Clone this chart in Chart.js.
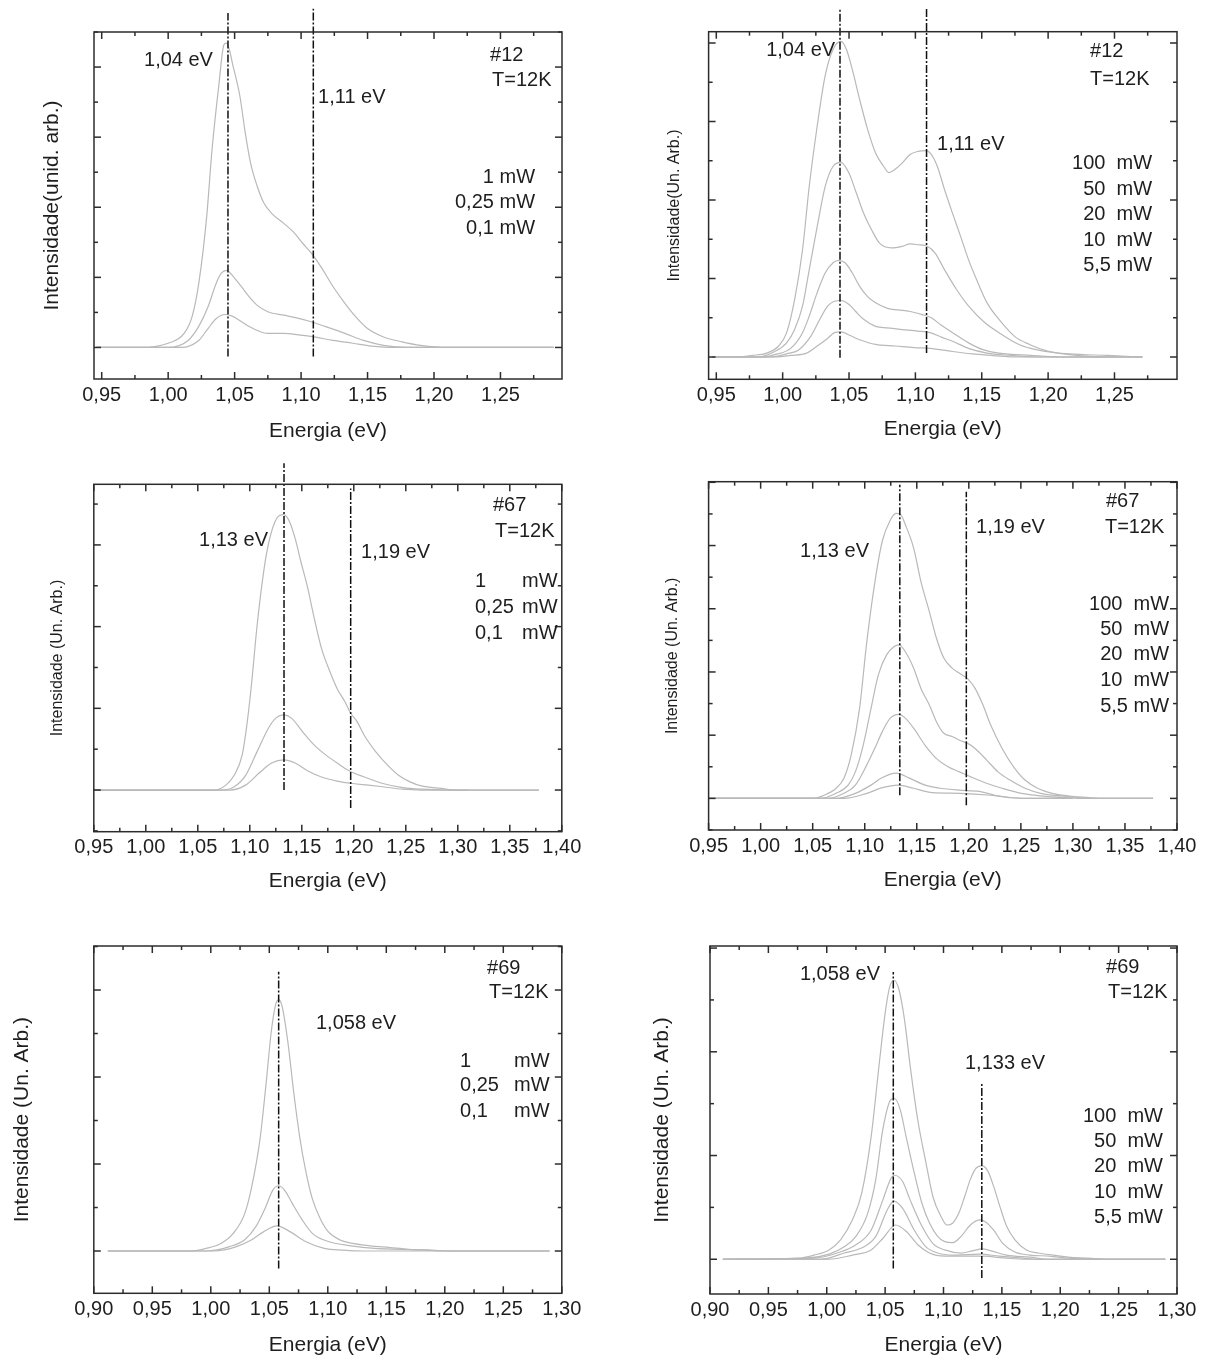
<!DOCTYPE html>
<html lang="pt">
<head>
<meta charset="utf-8">
<title>Fotoluminescência #12, #67, #69</title>
<script src="https://cdn.jsdelivr.net/npm/chart.js@4.4.1/dist/chart.umd.min.js"></script>
<style>
  html, body { margin: 0; padding: 0; background: #fff; }
  #pagina { position: relative; width: 1211px; height: 1363px; overflow: hidden; }
  #pagina canvas { position: absolute; }
</style>
</head>
<body>
<div id="pagina"></div>
<script>
// rótulos do eixo de energia
const ticks12 = [0.95, 1.00, 1.05, 1.10, 1.15, 1.20, 1.25];
const ticks67 = [0.95, 1.00, 1.05, 1.10, 1.15, 1.20, 1.25, 1.30, 1.35, 1.40];
const ticks69 = [0.90, 0.95, 1.00, 1.05, 1.10, 1.15, 1.20, 1.25, 1.30];

// amostra #12, baixa potência  [energia (eV), intensidade (u.a.)]
const a12_1mW = [[0.946,0],[0.98,0],[1.000,0.06],[1.012,0.2],[1.018,0.44],[1.023,0.91],[1.029,1.87],[1.033,2.82],[1.038,3.72],[1.042,4.32],[1.044,4.34],[1.049,4.0],[1.054,3.58],[1.058,3.06],[1.062,2.63],[1.067,2.30],[1.072,2.06],[1.078,1.91],[1.087,1.77],[1.095,1.63],[1.101,1.49],[1.108,1.34],[1.115,1.15],[1.124,0.87],[1.133,0.63],[1.141,0.44],[1.150,0.27],[1.162,0.15],[1.176,0.08],[1.190,0.03],[1.210,0],[1.290,0]];
const a12_025mW = [[0.946,0],[1.0,0],[1.015,0.1],[1.023,0.3],[1.03,0.58],[1.036,0.91],[1.04,1.06],[1.044,1.10],[1.049,1.01],[1.055,0.87],[1.061,0.72],[1.067,0.60],[1.075,0.51],[1.087,0.46],[1.095,0.43],[1.107,0.37],[1.118,0.30],[1.133,0.2],[1.147,0.1],[1.162,0.03],[1.18,0],[1.29,0]];
const a12_01mW = [[0.946,0],[1.01,0],[1.023,0.1],[1.03,0.27],[1.036,0.41],[1.043,0.47],[1.049,0.44],[1.055,0.37],[1.064,0.27],[1.075,0.20],[1.087,0.2],[1.098,0.18],[1.11,0.15],[1.124,0.1],[1.139,0.06],[1.153,0.02],[1.17,0],[1.29,0]];

// amostra #12, alta potência
const b12_100mW = [[0.947,0],[0.965,0],[0.977,0.02],[0.988,0.05],[0.997,0.14],[1.003,0.31],[1.009,0.73],[1.015,1.37],[1.020,2.17],[1.026,2.94],[1.032,3.58],[1.038,3.92],[1.044,4.02],[1.048,3.92],[1.0525,3.66],[1.058,3.28],[1.064,2.90],[1.070,2.60],[1.076,2.43],[1.080,2.35],[1.0845,2.39],[1.090,2.47],[1.096,2.58],[1.102,2.62],[1.108,2.63],[1.112,2.58],[1.1165,2.43],[1.122,2.13],[1.128,1.83],[1.134,1.54],[1.140,1.24],[1.146,0.99],[1.154,0.69],[1.163,0.48],[1.175,0.26],[1.186,0.16],[1.201,0.07],[1.216,0.04],[1.245,0.02],[1.271,0]];
const b12_50mW = [[0.947,0],[0.982,0],[0.994,0.07],[1.003,0.18],[1.009,0.35],[1.015,0.65],[1.020,1.11],[1.026,1.66],[1.032,2.17],[1.038,2.43],[1.044,2.48],[1.050,2.34],[1.0555,2.09],[1.061,1.83],[1.067,1.62],[1.073,1.45],[1.082,1.39],[1.090,1.41],[1.096,1.44],[1.102,1.43],[1.109,1.41],[1.115,1.32],[1.122,1.11],[1.131,0.86],[1.140,0.65],[1.1515,0.45],[1.163,0.31],[1.178,0.16],[1.192,0.09],[1.216,0.03],[1.24,0],[1.271,0]];
const b12_20mW = [[0.947,0],[0.985,0],[0.994,0.03],[1.006,0.11],[1.015,0.31],[1.020,0.52],[1.026,0.82],[1.032,1.07],[1.038,1.20],[1.042,1.23],[1.047,1.20],[1.0525,1.07],[1.058,0.90],[1.064,0.77],[1.070,0.69],[1.079,0.62],[1.087,0.60],[1.096,0.58],[1.105,0.54],[1.112,0.50],[1.119,0.41],[1.128,0.31],[1.140,0.18],[1.1515,0.09],[1.163,0.05],[1.187,0.02],[1.21,0],[1.271,0]];
const b12_10mW = [[0.947,0],[0.99,0],[1.003,0.04],[1.012,0.09],[1.021,0.26],[1.028,0.48],[1.034,0.65],[1.039,0.71],[1.044,0.72],[1.050,0.67],[1.055,0.58],[1.061,0.48],[1.070,0.39],[1.079,0.37],[1.090,0.35],[1.102,0.33],[1.111,0.31],[1.120,0.25],[1.128,0.20],[1.140,0.11],[1.154,0.05],[1.172,0.02],[1.19,0],[1.271,0]];
const b12_55mW = [[0.947,0],[0.995,0],[1.006,0.02],[1.018,0.05],[1.026,0.14],[1.034,0.24],[1.039,0.31],[1.044,0.32],[1.050,0.28],[1.058,0.22],[1.070,0.16],[1.085,0.14],[1.099,0.12],[1.111,0.11],[1.128,0.07],[1.143,0.04],[1.157,0.02],[1.18,0],[1.271,0]];

// amostra #67, baixa potência
const a67_1mW = [[0.95,0],[1.066,0],[1.077,0.06],[1.085,0.18],[1.0927,0.43],[1.097,0.78],[1.1012,1.24],[1.1074,2.06],[1.1159,2.88],[1.1244,3.29],[1.1325,3.37],[1.138,3.29],[1.1436,3.08],[1.149,2.80],[1.155,2.51],[1.162,2.10],[1.169,1.73],[1.177,1.45],[1.184,1.24],[1.1915,1.08],[1.197,0.94],[1.203,0.84],[1.21,0.67],[1.221,0.47],[1.232,0.31],[1.243,0.18],[1.254,0.10],[1.265,0.05],[1.284,0.02],[1.30,0],[1.378,0]];
const a67_025mW = [[0.95,0],[1.0735,0],[1.085,0.04],[1.096,0.18],[1.107,0.47],[1.118,0.76],[1.125,0.88],[1.1325,0.92],[1.14,0.88],[1.151,0.71],[1.162,0.55],[1.173,0.43],[1.184,0.33],[1.195,0.24],[1.21,0.16],[1.228,0.08],[1.247,0.03],[1.265,0.01],[1.29,0],[1.378,0]];
const a67_01mW = [[0.95,0],[1.081,0],[1.096,0.06],[1.110,0.22],[1.121,0.33],[1.1325,0.37],[1.1436,0.33],[1.155,0.24],[1.169,0.16],[1.184,0.11],[1.199,0.08],[1.214,0.06],[1.228,0.04],[1.247,0.01],[1.265,0],[1.31,0]];

// amostra #67, alta potência
const b67_100mW = [[0.95,0],[1.05,0],[1.061,0.05],[1.0725,0.16],[1.08,0.32],[1.087,0.69],[1.095,1.42],[1.102,2.48],[1.110,3.45],[1.117,4.08],[1.1245,4.40],[1.130,4.51],[1.134,4.50],[1.139,4.33],[1.147,3.96],[1.154,3.43],[1.162,2.96],[1.169,2.53],[1.176,2.22],[1.184,2.06],[1.191,1.98],[1.199,1.89],[1.206,1.74],[1.2135,1.48],[1.221,1.16],[1.232,0.79],[1.243,0.50],[1.254,0.29],[1.266,0.16],[1.28,0.08],[1.295,0.04],[1.317,0.01],[1.33,0],[1.377,0]];
const b67_50mW = [[0.95,0],[1.058,0],[1.0725,0.08],[1.084,0.21],[1.091,0.42],[1.0985,0.84],[1.106,1.42],[1.113,1.95],[1.121,2.27],[1.128,2.40],[1.133,2.43],[1.139,2.32],[1.147,2.06],[1.154,1.74],[1.162,1.48],[1.169,1.21],[1.176,1.03],[1.184,0.98],[1.191,0.92],[1.199,0.87],[1.206,0.79],[1.217,0.61],[1.228,0.42],[1.2395,0.29],[1.254,0.16],[1.269,0.08],[1.295,0.03],[1.32,0],[1.377,0]];
const b67_20mW = [[0.95,0],[1.065,0],[1.08,0.08],[1.091,0.21],[1.102,0.53],[1.1096,0.79],[1.117,1.06],[1.1245,1.27],[1.133,1.33],[1.139,1.27],[1.147,1.11],[1.158,0.84],[1.169,0.63],[1.180,0.50],[1.191,0.42],[1.202,0.34],[1.217,0.24],[1.232,0.16],[1.2506,0.08],[1.269,0.04],[1.295,0.01],[1.31,0],[1.377,0]];
const b67_10mW = [[0.95,0],[1.0725,0],[1.091,0.08],[1.106,0.21],[1.117,0.33],[1.130,0.40],[1.143,0.32],[1.158,0.21],[1.173,0.16],[1.191,0.13],[1.210,0.11],[1.225,0.05],[1.243,0.01],[1.26,0],[1.30,0]];
const b67_55mW = [[0.95,0],[1.08,0],[1.102,0.08],[1.117,0.17],[1.132,0.21],[1.147,0.16],[1.165,0.09],[1.191,0.08],[1.221,0.05],[1.24,0.01],[1.26,0],[1.30,0]];

// amostra #69, baixa potência
const a69_1mW = [[0.912,0],[0.983,0],[0.996,0.03],[1.009,0.09],[1.019,0.20],[1.029,0.43],[1.035,0.74],[1.042,1.28],[1.047,1.89],[1.0515,2.50],[1.055,2.81],[1.058,2.89],[1.061,2.81],[1.066,2.39],[1.071,1.81],[1.076,1.31],[1.081,0.93],[1.087,0.59],[1.094,0.36],[1.1005,0.22],[1.110,0.13],[1.120,0.09],[1.136,0.06],[1.153,0.04],[1.169,0.02],[1.1885,0.01],[1.21,0],[1.2895,0]];
const a69_025mW = [[0.912,0],[0.996,0],[1.016,0.05],[1.029,0.13],[1.0385,0.28],[1.047,0.51],[1.053,0.70],[1.058,0.75],[1.063,0.70],[1.0695,0.55],[1.078,0.36],[1.087,0.20],[1.1005,0.11],[1.12,0.06],[1.14,0.03],[1.162,0.02],[1.185,0.01],[1.20,0],[1.2895,0]];
const a69_01mW = [[0.912,0],[1.003,0],[1.022,0.05],[1.035,0.13],[1.045,0.22],[1.0565,0.29],[1.068,0.22],[1.081,0.11],[1.097,0.03],[1.1135,0.01],[1.13,0],[1.2895,0]];

// amostra #69, alta potência
const b69_100mW = [[0.911,0],[0.9755,0.01],[0.989,0.04],[1.002,0.09],[1.012,0.19],[1.022,0.38],[1.030,0.64],[1.038,1.18],[1.045,1.89],[1.050,2.37],[1.054,2.63],[1.0576,2.69],[1.0616,2.61],[1.0666,2.31],[1.0715,1.86],[1.078,1.34],[1.085,0.93],[1.091,0.60],[1.098,0.41],[1.103,0.33],[1.108,0.35],[1.113,0.44],[1.118,0.60],[1.123,0.77],[1.128,0.88],[1.133,0.90],[1.138,0.85],[1.143,0.70],[1.148,0.52],[1.154,0.32],[1.161,0.19],[1.171,0.09],[1.181,0.06],[1.194,0.04],[1.207,0.02],[1.224,0.01],[1.24,0],[1.29,0]];
const b69_50mW = [[0.911,0],[0.982,0.01],[1.002,0.05],[1.015,0.12],[1.025,0.22],[1.035,0.44],[1.042,0.77],[1.048,1.25],[1.055,1.54],[1.058,1.55],[1.063,1.44],[1.068,1.18],[1.075,0.83],[1.0815,0.54],[1.088,0.35],[1.095,0.22],[1.101,0.17],[1.108,0.16],[1.115,0.22],[1.123,0.33],[1.131,0.38],[1.136,0.36],[1.143,0.28],[1.151,0.15],[1.161,0.07],[1.174,0.04],[1.191,0.03],[1.207,0.01],[1.23,0],[1.29,0]];
const b69_20mW = [[0.911,0],[0.989,0.01],[1.009,0.06],[1.025,0.14],[1.038,0.28],[1.048,0.57],[1.055,0.78],[1.058,0.81],[1.065,0.75],[1.0715,0.57],[1.0815,0.32],[1.091,0.15],[1.101,0.09],[1.115,0.06],[1.1245,0.08],[1.133,0.10],[1.141,0.08],[1.154,0.04],[1.174,0.02],[1.19,0],[1.29,0]];
const b69_10mW = [[0.911,0],[0.995,0],[1.015,0.06],[1.032,0.12],[1.042,0.22],[1.052,0.48],[1.0576,0.56],[1.065,0.49],[1.075,0.28],[1.085,0.12],[1.095,0.06],[1.108,0.04],[1.131,0.05],[1.148,0.03],[1.168,0.01],[1.18,0],[1.29,0]];
const b69_55mW = [[0.911,0],[1.002,0],[1.022,0.04],[1.038,0.09],[1.048,0.20],[1.059,0.33],[1.068,0.27],[1.078,0.14],[1.088,0.06],[1.101,0.03],[1.134,0.03],[1.154,0.01],[1.17,0],[1.29,0]];

// linhas verticais das transições: [energia, y inferior, y superior]
const picos12a = [[1.045, -0.13, 4.77], [1.1092, -0.13, 4.83]];
const picos12b = [[1.0432, -0.01, 4.45], [1.1084, 0.05, 4.45]];
const picos67a = [[1.1329, 0, 4.0], [1.197, -0.22, 3.69]];
const picos67b = [[1.1337, 0.05, 4.96], [1.1976, -0.11, 4.85]];
const picos69a = [[1.058, -0.2, 3.21]];
const picos69b = [[1.057, -0.09, 2.77], [1.1328, -0.18, 1.70]];

const potAlta = ['100  mW', '50  mW', '20  mW', '10  mW', '5,5 mW'];

const FONTE = '"Liberation Sans", Arial, Helvetica, sans-serif';
const COR_TEXTO = '#1e1e1e';
const COR_CURVA = '#b9b9b9';

Chart.defaults.font.family = FONTE;
Chart.defaults.color = COR_TEXTO;

const paineis = [
  {
    canvas: [0, 0, 605, 450], quadro: [94, 32, 562, 379],
    x: [0.9442, 1.2963], xTicks: ticks12, y: [-0.45, 4.5],
    tituloY: 'Intensidade(unid. arb.)', tamY: 21, cxTituloY: 52, cyTituloX: 431,
    curvas: [a12_1mW, a12_025mW, a12_01mW], picos: picos12a,
    textos: [
      { t: '1,04 eV', x: 1.0337, y: 4.10, a: 'right' },
      { t: '1,11 eV', x: 1.1128, y: 3.57, a: 'left' },
      { t: '#12', x: 1.2422, y: 4.17, a: 'left' },
      { t: 'T=12K', x: 1.2437, y: 3.81, a: 'left' },
      { t: '1 mW', x: 1.276, y: 2.43, a: 'right' },
      { t: '0,25 mW', x: 1.276, y: 2.07, a: 'right' },
      { t: '0,1 mW', x: 1.276, y: 1.70, a: 'right' }
    ]
  },
  {
    canvas: [605, 0, 606, 450], quadro: [708.6, 31.7, 1177, 379.3],
    x: [0.9442, 1.2971], xTicks: ticks12, y: [-0.284, 4.144],
    tituloY: 'Intensidade(Un. Arb.)', tamY: 16, cxTituloY: 675, cyTituloX: 429,
    curvas: [b12_100mW, b12_50mW, b12_20mW, b12_10mW, b12_55mW], picos: picos12b,
    textos: [
      { t: '1,04 eV', x: 1.0395, y: 3.90, a: 'right' },
      { t: '1,11 eV', x: 1.1163, y: 2.71, a: 'left' },
      { t: '#12', x: 1.2316, y: 3.89, a: 'left' },
      { t: 'T=12K', x: 1.2316, y: 3.54, a: 'left' }
    ].concat(potAlta.map((t, i) => ({ t, x: 1.2783, y: [2.46, 2.14, 1.81, 1.49, 1.16][i], a: 'right' })))
  },
  {
    canvas: [0, 450, 605, 455], quadro: [93.8, 484.3, 561.8, 831.7],
    x: [0.95, 1.40], xTicks: ticks67, y: [-0.51, 3.742],
    tituloY: 'Intensidade (Un. Arb.)', tamY: 16, cxTituloY: 58, cyTituloX: 881,
    curvas: [a67_1mW, a67_025mW, a67_01mW], picos: picos67a,
    textos: [
      { t: '1,13 eV', x: 1.1175, y: 3.05, a: 'right' },
      { t: '1,19 eV', x: 1.207, y: 2.91, a: 'left' },
      { t: '#67', x: 1.3338, y: 3.48, a: 'left' },
      { t: 'T=12K', x: 1.3358, y: 3.16, a: 'left' },
      { t: '1', x: 1.3165, y: 2.55, a: 'left' },
      { t: '0,25', x: 1.3165, y: 2.23, a: 'left' },
      { t: '0,1', x: 1.3165, y: 1.91, a: 'left' },
      { t: 'mW', x: 1.3617, y: 2.55, a: 'left' },
      { t: 'mW', x: 1.3617, y: 2.23, a: 'left' },
      { t: 'mW', x: 1.3617, y: 1.91, a: 'left' }
    ]
  },
  {
    canvas: [605, 450, 606, 455], quadro: [708.6, 481.7, 1177, 830],
    x: [0.95, 1.40], xTicks: ticks67, y: [-0.50, 5.01],
    tituloY: 'Intensidade (Un. Arb.)', tamY: 16, cxTituloY: 673, cyTituloX: 880,
    curvas: [b67_100mW, b67_50mW, b67_20mW, b67_10mW, b67_55mW], picos: picos67b,
    textos: [
      { t: '1,13 eV', x: 1.1041, y: 3.91, a: 'right' },
      { t: '1,19 eV', x: 1.2069, y: 4.28, a: 'left' },
      { t: '#67', x: 1.3317, y: 4.69, a: 'left' },
      { t: 'T=12K', x: 1.3308, y: 4.29, a: 'left' }
    ].concat(potAlta.map((t, i) => ({ t, x: 1.3924, y: [3.07, 2.68, 2.27, 1.87, 1.46][i], a: 'right' })))
  },
  {
    canvas: [0, 905, 605, 458], quadro: [93.8, 946, 561.8, 1293.3],
    x: [0.90, 1.30], xTicks: ticks69, y: [-0.486, 3.506],
    tituloY: 'Intensidade (Un. Arb.)', tamY: 21, cxTituloY: 22, cyTituloX: 1345,
    curvas: [a69_1mW, a69_025mW, a69_01mW], picos: picos69a,
    textos: [
      { t: '1,058 eV', x: 1.0899, y: 2.62, a: 'left' },
      { t: '#69', x: 1.2361, y: 3.25, a: 'left' },
      { t: 'T=12K', x: 1.2378, y: 2.97, a: 'left' },
      { t: '1', x: 1.213, y: 2.18, a: 'left' },
      { t: '0,25', x: 1.213, y: 1.90, a: 'left' },
      { t: '0,1', x: 1.213, y: 1.60, a: 'left' },
      { t: 'mW', x: 1.2592, y: 2.18, a: 'left' },
      { t: 'mW', x: 1.2592, y: 1.90, a: 'left' },
      { t: 'mW', x: 1.2592, y: 1.60, a: 'left' }
    ]
  },
  {
    canvas: [605, 905, 606, 458], quadro: [710, 946, 1177, 1294],
    x: [0.90, 1.30], xTicks: ticks69, y: [-0.335, 3.02],
    tituloY: 'Intensidade (Un. Arb.)', tamY: 21, cxTituloY: 662, cyTituloX: 1345,
    curvas: [b69_100mW, b69_50mW, b69_20mW, b69_10mW, b69_55mW], picos: picos69b,
    textos: [
      { t: '1,058 eV', x: 1.0456, y: 2.75, a: 'right' },
      { t: '1,133 eV', x: 1.1184, y: 1.89, a: 'left' },
      { t: '#69', x: 1.2392, y: 2.81, a: 'left' },
      { t: 'T=12K', x: 1.2409, y: 2.57, a: 'left' }
    ].concat(potAlta.map((t, i) => ({ t, x: 1.288, y: [1.38, 1.14, 0.89, 0.64, 0.40][i], a: 'right' })))
  }
];

const virgula = v => v.toFixed(2).replace('.', ',');

// moldura fechada com marcas para dentro nos quatro lados + anotações
function moldura(p) {
  return {
    id: 'moldura',
    afterDraw(chart) {
      const { ctx, chartArea: a, scales: { x, y } } = chart;
      ctx.save();
      ctx.strokeStyle = '#2c2c2c';
      ctx.lineWidth = 1.5;
      ctx.strokeRect(a.left, a.top, a.right - a.left, a.bottom - a.top);

      const linha = (x1, y1, x2, y2) => {
        ctx.beginPath(); ctx.moveTo(x1, y1); ctx.lineTo(x2, y2); ctx.stroke();
      };
      const marcas = (escala, passo, maior, horiz) => {
        const n0 = Math.ceil(escala.min / passo - 1e-6);
        const n1 = Math.floor(escala.max / passo + 1e-6);
        for (let n = n0; n <= n1; n++) {
          const v = n * passo;
          const r = v / maior;
          const len = Math.abs(r - Math.round(r)) < 1e-6 ? 7 : 4;
          const px = escala.getPixelForValue(v);
          if (horiz) {
            linha(px, a.bottom, px, a.bottom - len);
            linha(px, a.top, px, a.top + len);
          } else {
            linha(a.left, px, a.left + len, px);
            linha(a.right, px, a.right - len, px);
          }
        }
      };
      marcas(x, 0.025, 0.05, true);
      marcas(y, 0.5, 1, false);

      ctx.fillStyle = COR_TEXTO;
      ctx.font = '20px ' + FONTE;
      ctx.textBaseline = 'middle';
      p.textos.forEach(t => {
        ctx.textAlign = t.a;
        ctx.fillText(t.t, x.getPixelForValue(t.x), y.getPixelForValue(t.y));
      });
      ctx.restore();
    }
  };
}

function montar(p) {
  const [cl, ct, cw, ch] = p.canvas;
  const [fl, ft, fr, fb] = p.quadro;
  const lhY = p.tamY * 1.2, lhX = 21 * 1.2;
  const padLeft = p.cxTituloY - cl - lhY / 2;
  const largY = fl - cl - padLeft;
  const altX = p.cyTituloX - fb + lhX / 2;
  const padBottom = Math.max(0, ct + ch - fb - altX);

  const cv = document.createElement('canvas');
  cv.width = cw; cv.height = ch;
  cv.style.left = cl + 'px'; cv.style.top = ct + 'px';
  cv.style.width = cw + 'px'; cv.style.height = ch + 'px';
  document.getElementById('pagina').appendChild(cv);

  const marcadores = p.picos.map(([e, y0, y1]) => ({
    data: [{ x: e, y: y0 }, { x: e, y: y1 }],
    borderColor: '#111',
    borderWidth: 1.5,
    borderDash: [8, 2, 2, 2],
    pointRadius: 0,
    showLine: true,
    clip: false
  }));
  const espectros = p.curvas.map(c => ({
    data: c.map(([x, y]) => ({ x, y })),
    borderColor: COR_CURVA,
    borderWidth: 1.2,
    pointRadius: 0,
    showLine: true,
    cubicInterpolationMode: 'monotone'
  }));

  new Chart(cv, {
    type: 'scatter',
    data: { datasets: marcadores.concat(espectros) },
    options: {
      responsive: false,
      animation: false,
      events: [],
      layout: { padding: { top: ft - ct, right: cl + cw - fr, left: padLeft, bottom: padBottom } },
      plugins: { legend: { display: false }, tooltip: { enabled: false } },
      scales: {
        x: {
          type: 'linear', min: p.x[0], max: p.x[1],
          afterBuildTicks: s => { s.ticks = p.xTicks.map(v => ({ value: v })); },
          afterFit: s => { s.height = altX; },
          grid: { display: false, drawTicks: false },
          border: { display: false },
          ticks: { autoSkip: false, maxRotation: 0, padding: 4, font: { size: 20 }, color: COR_TEXTO, callback: v => virgula(v) },
          title: { display: true, text: 'Energia (eV)', font: { size: 21 }, padding: 0, color: COR_TEXTO }
        },
        y: {
          type: 'linear', min: p.y[0], max: p.y[1],
          afterFit: s => { s.width = largY; },
          grid: { display: false, drawTicks: false },
          border: { display: false },
          ticks: { display: false },
          title: { display: true, text: p.tituloY, font: { size: p.tamY }, padding: 0, color: COR_TEXTO }
        }
      }
    },
    plugins: [moldura(p)]
  });
}

paineis.forEach(montar);
</script>
</body>
</html>
